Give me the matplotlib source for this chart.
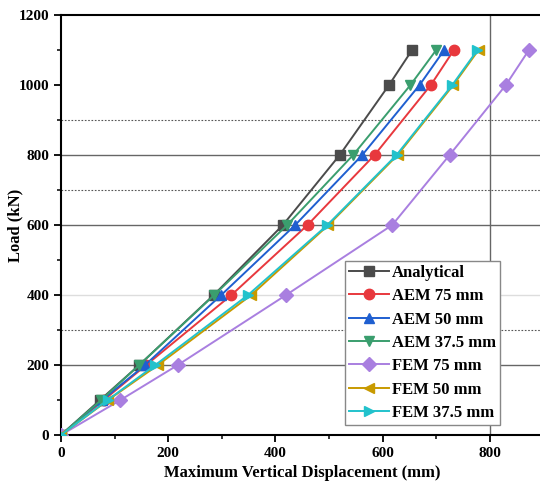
import matplotlib
matplotlib.use("Agg")
import matplotlib.pyplot as plt
from matplotlib.ticker import MultipleLocator

loads = [0, 100, 200, 400, 600, 800, 1000, 1100]
analytical = [0, 73, 146, 285, 414, 520, 612, 655]
aem_75 = [0, 80, 159, 318, 460, 585, 690, 733]
aem_50 = [0, 77, 157, 299, 437, 562, 669, 715]
aem_375 = [0, 75, 146, 286, 422, 545, 652, 700]
fem_75 = [0, 111, 218, 420, 618, 725, 830, 873]
fem_50 = [0, 88, 181, 355, 499, 628, 732, 779]
fem_375 = [0, 87, 176, 349, 497, 626, 730, 777]

series = [
    ("Analytical", analytical, "#4b4b4b", "s"),
    ("AEM 75 mm", aem_75, "#e8383d", "o"),
    ("AEM 50 mm", aem_50, "#1f5fd0", "^"),
    ("AEM 37.5 mm", aem_375, "#3a9e6e", "v"),
    ("FEM 75 mm", fem_75, "#a97fe0", "D"),
    ("FEM 50 mm", fem_50, "#c89a00", "<"),
    ("FEM 37.5 mm", fem_375, "#22c2cc", ">"),
]

plt.rcParams['font.family'] = ['Liberation Serif', 'DejaVu Serif']
plt.rcParams['font.weight'] = 'bold'

fig = plt.figure(figsize=(5.4, 4.9), dpi=100)
ax = fig.add_axes([61/540, 55/490, 482.4/540, 420/490])

# reference lines
for y in [200, 600, 800]:
    ax.axhline(y, color="#666666", lw=1.0, zorder=1)
ax.axhline(400, color="#dddddd", lw=1.0, zorder=1)
for y in [300, 700, 900]:
    ax.axhline(y, color="#555555", lw=0.8, ls=(0, (1.5, 1.5)), zorder=1)
ax.axvline(800, color="#666666", lw=1.0, zorder=1)

for name, vals, col, mk in series:
    ms = 7 if mk == "D" else 7.5
    ax.plot(vals, loads, color=col, marker=mk, markersize=ms, lw=1.4,
            label=name, zorder=3)

ax.set_xlim(0, 900)
ax.set_ylim(0, 1200)
ax.xaxis.set_major_locator(MultipleLocator(200))
ax.xaxis.set_minor_locator(MultipleLocator(100))
ax.yaxis.set_major_locator(MultipleLocator(200))
ax.yaxis.set_minor_locator(MultipleLocator(100))
ax.tick_params(which="major", length=5, width=1.3, labelsize=11, direction="out")
ax.tick_params(which="minor", length=3, width=1.1, direction="out")
for lab in ax.get_xticklabels() + ax.get_yticklabels():
    lab.set_fontweight("bold")
for s in ["left", "bottom", "top"]:
    ax.spines[s].set_linewidth(1.5)
ax.spines["right"].set_visible(False)

ax.set_xlabel("Maximum Vertical Displacement (mm)", fontsize=12, fontweight="bold", labelpad=4)
ax.set_ylabel("Load (kN)", fontsize=12, fontweight="bold")
ax.yaxis.set_label_coords(-(61 - 23) / 482.4, 0.5)

leg = ax.legend(loc="lower left", bbox_to_anchor=(284/482.4, 10/420),
                prop={"family": "Liberation Serif", "weight": "bold", "size": 12},
                frameon=True, fancybox=False, edgecolor="#888888",
                framealpha=1, handlelength=2.4, labelspacing=0.44,
                borderpad=0.25, handletextpad=0.15, borderaxespad=0)
leg.get_frame().set_linewidth(1.0)

fig.savefig("out.png", dpi=100)
